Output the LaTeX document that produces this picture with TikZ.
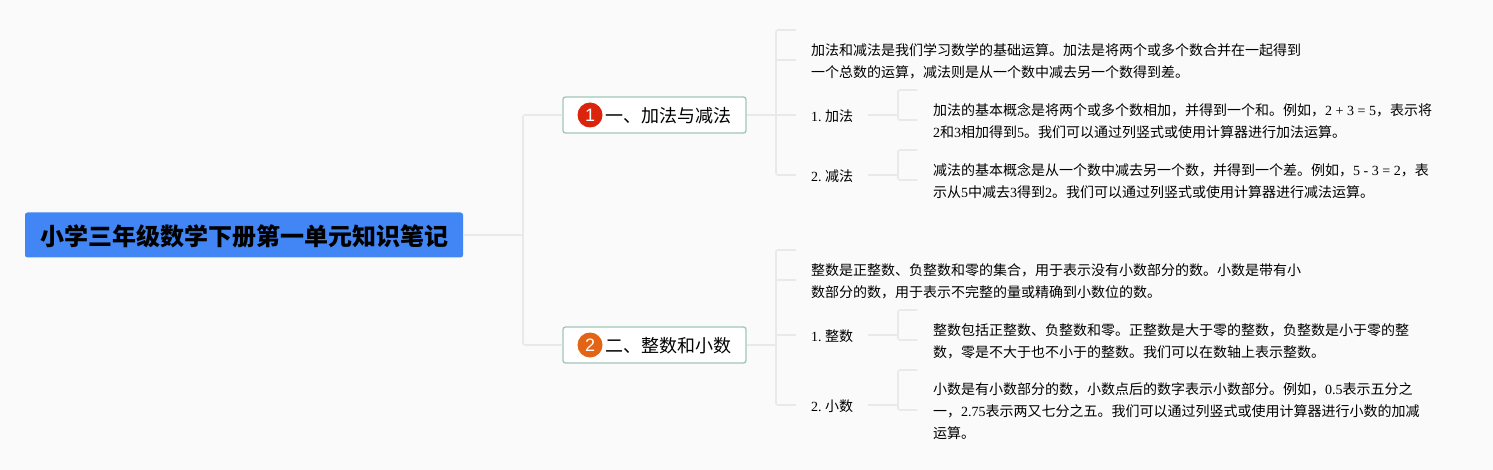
\documentclass[tikz,border=0pt]{standalone}
\usepackage{fontspec}
\setmainfont{Noto Sans CJK SC}
\newfontfamily\numfont{Liberation Serif}
\newfontfamily\badgefont{Liberation Sans}
\newcommand{\nm}[1]{{\numfont #1}}
\newcommand{\nudge}[1]{\raisebox{-1pt}[\height][\depth]{#1}}
\usetikzlibrary{positioning}
\definecolor{pagebg}{RGB}{250,250,251}
\definecolor{rootblue}{RGB}{66,133,244}
\definecolor{topicedge}{RGB}{160,198,185}
\definecolor{branchgray}{RGB}{233,233,233}
\definecolor{badgered}{RGB}{219,36,12}
\definecolor{badgeorange}{RGB}{227,100,20}
\tikzset{
    rootbox/.style={fill=rootblue, rounded corners=2.5pt, minimum width=438pt, minimum height=45pt,
        inner sep=0pt, font=\fontsize{24}{28}\selectfont\bfseries, text=black},
    topicbox/.style={draw=topicedge, line width=1.3pt, fill=white, rounded corners=2.5pt,
        minimum width=183pt, minimum height=36pt, inner xsep=15pt, inner ysep=0pt,
        font=\fontsize{18}{22}\selectfont},
    badge/.style={circle, minimum size=25pt, inner sep=0pt, text=white,
        font=\badgefont\fontsize{18}{20}\selectfont},
    leaflabel/.style={anchor=west, inner xsep=15pt, inner ysep=0pt, align=left,
        font=\fontsize{14}{22}\selectfont},
    leaftext/.style={anchor=west, inner xsep=15pt, inner ysep=0pt, align=left,
        font=\fontsize{14}{22}\selectfont},
    detailtext/.style={anchor=west, inner xsep=16pt, inner ysep=0pt, align=left,
        font=\fontsize{14}{22}\selectfont},
    branch/.style={draw=branchgray, line width=1.6pt, rounded corners=2pt},
}
\begin{document}
\begin{tikzpicture}[x=1pt, y=-1pt]
    \useasboundingbox[fill=pagebg] (0,0) rectangle (1493,470);

    % hubs and free ends
    \coordinate (hubRoot) at (523,235);
    \coordinate (hubAdd) at (776,115);
    \coordinate (hubNum) at (776,345);
    \coordinate (hubPlus) at (898,115);
    \coordinate (hubMinus) at (898,175);
    \coordinate (hubWhole) at (898,335);
    \coordinate (hubDecimal) at (898,405);
    \coordinate (stubAdd) at (796,30);
    \coordinate (stubNum) at (796,250);
    \coordinate (stubPlus) at (917,90);
    \coordinate (stubMinus) at (917,150);
    \coordinate (stubWhole) at (917,310);
    \coordinate (stubDecimal) at (917,370);

    % first topic
    \node[leaftext] (introAdd) at (796,61.5) {加法和减法是我们学习数学的基础运算。加法是将两个或多个数合并在一起得到\\一个总数的运算，减法则是从一个数中减去另一个数得到差。};
    \node[leaflabel] (plus) at (796,115) {\nudge{\nm{1.\hspace{3.5pt}}加法}};
    \node[leaflabel] (minus) at (796,175) {\nudge{\nm{2.\hspace{3.5pt}}减法}};
    \node[detailtext] (plusText) at (917,121.5) {加法的基本概念是将两个或多个数相加，并得到一个和。例如，\nm{2 + 3 = 5}，表示将\\\nm{2}和\nm{3}相加得到\nm{5}。我们可以通过列竖式或使用计算器进行加法运算。};
    \node[detailtext] (minusText) at (917,181.5) {减法的基本概念是从一个数中减去另一个数，并得到一个差。例如，\nm{5 - 3 = 2}，表\\示从\nm{5}中减去\nm{3}得到\nm{2}。我们可以通过列竖式或使用计算器进行减法运算。};

    % second topic
    \node[leaftext] (introNum) at (796,281.5) {整数是正整数、负整数和零的集合，用于表示没有小数部分的数。小数是带有小\\数部分的数，用于表示不完整的量或精确到小数位的数。};
    \node[leaflabel] (whole) at (796,335) {\nudge{\nm{1.\hspace{3.5pt}}整数}};
    \node[leaflabel] (decimal) at (796,405) {\nudge{\nm{2.\hspace{3.5pt}}小数}};
    \node[detailtext] (wholeText) at (917,341.5) {整数包括正整数、负整数和零。正整数是大于零的整数，负整数是小于零的整\\数，零是不大于也不小于的整数。我们可以在数轴上表示整数。};
    \node[detailtext] (decimalText) at (917,411) {小数是有小数部分的数，小数点后的数字表示小数部分。例如，\nm{0.5}表示五分之\\一，\nm{2.75}表示两又七分之五。我们可以通过列竖式或使用计算器进行小数的加减\\运算。};

    \draw[branch] (hubAdd) |- (stubAdd);
    \draw[branch] (hubAdd) |- ([yshift=1.5pt]introAdd.west);
    \draw[branch] (hubAdd) -- (plus.west);
    \draw[branch] (hubAdd) |- (minus.west);
    \draw[branch] (plus.east) -- (hubPlus);
    \draw[branch] (hubPlus) |- (stubPlus);
    \draw[branch] (hubPlus) |- ([yshift=1.5pt]plusText.west);
    \draw[branch] (minus.east) -- (hubMinus);
    \draw[branch] (hubMinus) |- (stubMinus);
    \draw[branch] (hubMinus) |- ([yshift=1.5pt]minusText.west);

    \draw[branch] (hubNum) |- (stubNum);
    \draw[branch] (hubNum) |- ([yshift=1.5pt]introNum.west);
    \draw[branch] (hubNum) |- (whole.west);
    \draw[branch] (hubNum) |- (decimal.west);
    \draw[branch] (whole.east) -- (hubWhole);
    \draw[branch] (hubWhole) |- (stubWhole);
    \draw[branch] (hubWhole) |- ([yshift=1.5pt]wholeText.west);
    \draw[branch] (decimal.east) -- (hubDecimal);
    \draw[branch] (hubDecimal) |- (stubDecimal);
    \draw[branch] (hubDecimal) |- ([yshift=1pt]decimalText.west);

    % root and the two topics
    \node[rootbox] (root) at (244,235) {\nudge{小学三年级数学下册第一单元知识笔记}};
    \node[topicbox] (topicAdd) at (654.5,115) {\nudge{\hspace*{27pt}一、加法与减法}};
    \node[topicbox] (topicNum) at (654.5,345) {\nudge{\hspace*{27pt}二、整数和小数}};
    \node[badge, fill=badgered] (badgeAdd) at (590,115) {1};
    \node[badge, fill=badgeorange] (badgeNum) at (590,345) {2};

    \draw[branch] (root) -- (hubRoot);
    \draw[branch] (hubRoot) |- (topicAdd);
    \draw[branch] (hubRoot) |- (topicNum);
    \draw[branch] (topicAdd) -- (hubAdd);
    \draw[branch] (topicNum) -- (hubNum);
\end{tikzpicture}
\end{document}
